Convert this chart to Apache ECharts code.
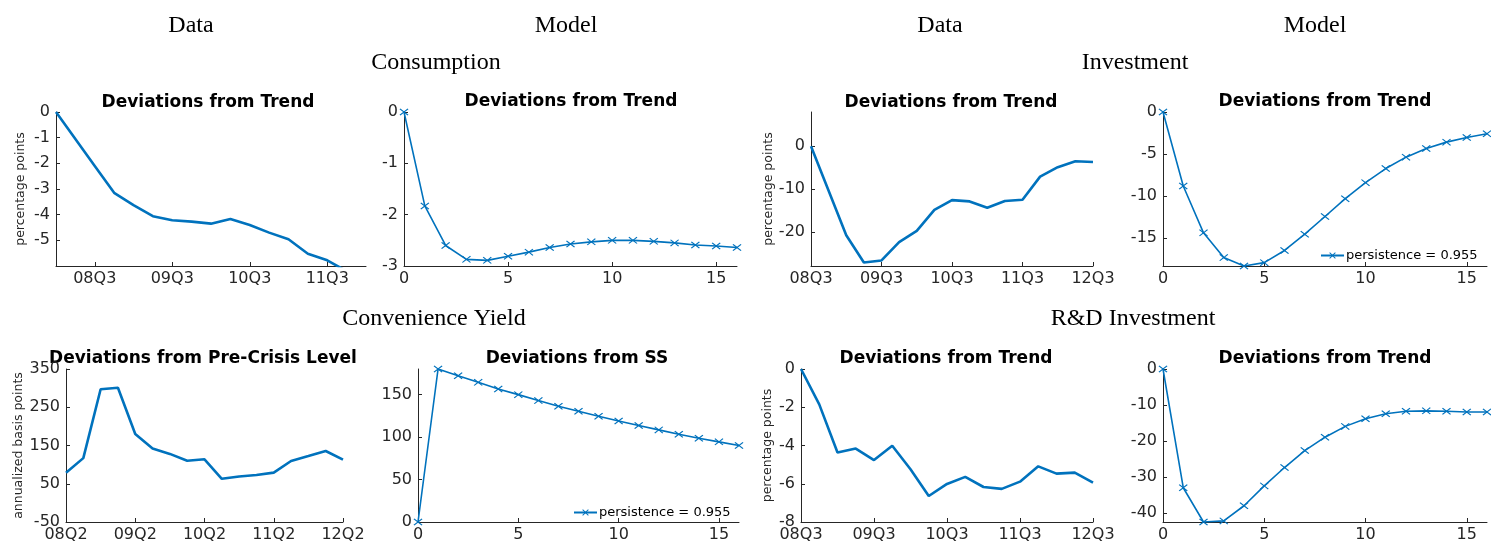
<!DOCTYPE html>
<html>
<head>
<meta charset="utf-8">
<script src="https://cdn.jsdelivr.net/npm/echarts@6/dist/echarts.min.js"></script>
<style>html,body{margin:0;padding:0;background:#fff;}#c{width:1491px;height:542px;}</style>
</head>
<body>
<div id="c"></div>
<script>
// ---------- data ----------
const consQuarters = ['08Q1','08Q2','08Q3','08Q4','09Q1','09Q2','09Q3','09Q4','10Q1','10Q2','10Q3','10Q4','11Q1','11Q2','11Q3','11Q4','12Q1'];
const consData = [0,-1.05,-2.1,-3.15,-3.63,-4.06,-4.22,-4.27,-4.35,-4.17,-4.40,-4.70,-4.96,-5.52,-5.78,-6.2];

const invQuarters = ['08Q3','08Q4','09Q1','09Q2','09Q3','09Q4','10Q1','10Q2','10Q3','10Q4','11Q1','11Q2','11Q3','11Q4','12Q1','12Q2','12Q3'];
const invData = [0,-10.4,-20.8,-27.2,-26.7,-22.4,-19.8,-14.9,-12.6,-12.9,-14.4,-12.8,-12.5,-7.1,-4.9,-3.5,-3.7];

const cyQuarters = ['08Q2','08Q3','08Q4','09Q1','09Q2','09Q3','09Q4','10Q1','10Q2','10Q3','10Q4','11Q1','11Q2','11Q3','11Q4','12Q1','12Q2'];
const cyData = [79,117,297,301,180,142,128,110,114,63,69,73,79,109.5,122.5,135.6,113];

const rdQuarters = ['08Q3','08Q4','09Q1','09Q2','09Q3','09Q4','10Q1','10Q2','10Q3','10Q4','11Q1','11Q2','11Q3','11Q4','12Q1','12Q2','12Q3'];
const rdData = [0,-1.85,-4.37,-4.16,-4.76,-4.01,-5.24,-6.64,-6.01,-5.64,-6.17,-6.27,-5.89,-5.09,-5.47,-5.42,-5.94];

const horizon = [0,1,2,3,4,5,6,7,8,9,10,11,12,13,14,15,16];
const consModel = [0,-1.83,-2.60,-2.87,-2.89,-2.81,-2.73,-2.64,-2.57,-2.53,-2.50,-2.50,-2.52,-2.55,-2.59,-2.61,-2.64];
const invModel = [0,-8.82,-14.4,-17.35,-18.35,-17.95,-16.5,-14.56,-12.45,-10.33,-8.42,-6.74,-5.38,-4.35,-3.59,-3.03,-2.59];
const cyModel = [0,180.2,172.3,164.5,156.7,150,143,136.3,130.4,124.6,119,113.6,108.5,103.4,98.7,94.4,90.1];
const rdModel = [0,-32.9,-42.4,-42.1,-37.9,-32.4,-27.3,-22.6,-18.9,-15.9,-13.8,-12.4,-11.7,-11.6,-11.7,-11.9,-11.9];

const modelTicks = [0,5,10,15];
const consYTicks = [-5,-4,-3,-2,-1,0];
const consModelYTicks = [-3,-2,-1,0];
const invYTicks = [-20,-10,0];
const invModelYTicks = [-15,-10,-5,0];
const cyYTicks = [-50,50,150,250,350];
const cyModelYTicks = [0,50,100,150];
const rdYTicks = [-8,-6,-4,-2,0];
const rdModelYTicks = [-40,-30,-20,-10,0];

const legendName = 'persistence = 0.955';

// ---------- styling ----------
const AX = '#262626';
const BLUE = '#0072BD';
const TICKFONT = {color: AX, fontFamily: 'DejaVu Sans', fontSize: 16};
const XMARK = 'path://M0,1L1,0L5,4L9,0L10,1L6,5L10,9L9,10L5,6L1,10L0,9L4,5Z';

function catX(gi, cats, q) {
  const f = (i, v) => String(v).endsWith(q);
  return {type: 'category', gridIndex: gi, data: cats, boundaryGap: false,
    axisLine: {onZero: false, lineStyle: {color: AX, width: 1}},
    axisTick: {inside: true, length: 4, interval: f, lineStyle: {color: AX}},
    axisLabel: Object.assign({interval: f, margin: 5}, TICKFONT),
    splitLine: {show: false}};
}
function valX(gi) {
  return {type: 'value', gridIndex: gi, min: 0, max: 16,
    axisLine: {onZero: false, lineStyle: {color: AX, width: 1}},
    axisTick: {inside: true, length: 4, customValues: modelTicks, lineStyle: {color: AX}},
    axisLabel: Object.assign({customValues: modelTicks, margin: 5}, TICKFONT),
    splitLine: {show: false}};
}
function valY(gi, min, max, ticks, name, gap) {
  return {type: 'value', gridIndex: gi, min: min, max: max,
    name: name || '', nameLocation: 'middle', nameGap: gap || 30,
    nameTextStyle: {color: AX, fontFamily: 'DejaVu Sans', fontSize: 12.5},
    axisLine: {show: true, onZero: false, lineStyle: {color: AX, width: 1}},
    axisTick: {show: true, inside: true, length: 4, customValues: ticks, lineStyle: {color: AX}},
    axisLabel: Object.assign({customValues: ticks, margin: 6}, TICKFONT),
    splitLine: {show: false}};
}
function pairs(xs, ys) { return ys.map((y, i) => [xs[i], y]); }
function dataLine(gi, vals, name) {
  return {type: 'line', name: name, xAxisIndex: gi, yAxisIndex: gi, data: vals,
    showSymbol: false, symbol: 'none', clip: true, animation: false,
    lineStyle: {color: BLUE, width: 2.6}, itemStyle: {color: BLUE}};
}
function modelLine(gi, vals, name) {
  return {type: 'line', name: name, xAxisIndex: gi, yAxisIndex: gi, data: pairs(horizon, vals),
    symbol: XMARK, symbolSize: [9, 7], showSymbol: true, clip: true, animation: false,
    lineStyle: {color: BLUE, width: 1.6}, itemStyle: {color: BLUE}};
}

const grids = [
  {left: 56, top: 112, width: 310, height: 154},
  {left: 404, top: 112, width: 333, height: 154},
  {left: 811, top: 112, width: 282, height: 154},
  {left: 1163, top: 112, width: 324, height: 154},
  {left: 66, top: 369, width: 277, height: 153},
  {left: 418, top: 369, width: 321, height: 153},
  {left: 801, top: 369, width: 292, height: 153},
  {left: 1163, top: 369, width: 324, height: 153}
].map(g => Object.assign({outerBoundsMode: 'none', containLabel: false}, g));

const heading = (x, y, t) => ({type: 'text', x: x, y: y, silent: true,
  style: {text: t, font: '24px "Liberation Serif"', fill: '#000', align: 'center', textAlign: 'center', verticalAlign: 'middle', textVerticalAlign: 'middle'}});
const ptitle = (x, y, t) => ({type: 'text', x: x, y: y, silent: true,
  style: {text: t, font: 'bold 17px "DejaVu Sans"', fill: '#000', align: 'center', textAlign: 'center', verticalAlign: 'middle', textVerticalAlign: 'middle'}});

const option = {
  animation: false,
  backgroundColor: '#fff',
  grid: grids,
  xAxis: [
    catX(0, consQuarters, 'Q3'), valX(1),
    catX(2, invQuarters, 'Q3'), valX(3),
    catX(4, cyQuarters, 'Q2'), valX(5),
    catX(6, rdQuarters, 'Q3'), valX(7)
  ],
  yAxis: [
    valY(0, -6, 0, consYTicks, 'percentage points', 29),
    valY(1, -3, 0, consModelYTicks),
    valY(2, -28, 8, invYTicks, 'percentage points', 36),
    valY(3, -18.35, 0, invModelYTicks),
    valY(4, -50, 350, cyYTicks, 'annualized basis points', 41),
    valY(5, 0, 180.2, cyModelYTicks),
    valY(6, -8, 0, rdYTicks, 'percentage points', 27),
    valY(7, -42.4, 0, rdModelYTicks)
  ],
  legend: [
    {data: [legendName], left: 1320, top: 249, padding: 0, itemWidth: 23, itemHeight: 8, itemGap: 0, selectedMode: false,
     textStyle: {fontFamily: 'DejaVu Sans', fontSize: 13, color: '#000', padding: [0, 0, 0, -3]}},
    {data: [legendName], left: 573, top: 506, padding: 0, itemWidth: 23, itemHeight: 8, itemGap: 0, selectedMode: false,
     textStyle: {fontFamily: 'DejaVu Sans', fontSize: 13, color: '#000', padding: [0, 0, 0, -3]}}
  ],
  series: [
    dataLine(0, consData, 'cons data'),
    modelLine(1, consModel, 'cons model'),
    dataLine(2, invData, 'inv data'),
    modelLine(3, invModel, legendName),
    dataLine(4, cyData, 'cy data'),
    modelLine(5, cyModel, legendName),
    dataLine(6, rdData, 'rd data'),
    modelLine(7, rdModel, 'rd model')
  ],
  graphic: [
    heading(191, 26, 'Data'), heading(566, 26, 'Model'),
    heading(940, 26, 'Data'), heading(1315, 26, 'Model'),
    heading(436, 63, 'Consumption'), heading(1135, 63, 'Investment'),
    heading(434, 319, 'Convenience Yield'), heading(1133, 319, 'R&D Investment'),
    ptitle(208, 103, 'Deviations from Trend'), ptitle(571, 102, 'Deviations from Trend'),
    ptitle(951, 103, 'Deviations from Trend'), ptitle(1325, 102, 'Deviations from Trend'),
    ptitle(203, 359, 'Deviations from Pre-Crisis Level'), ptitle(577, 359, 'Deviations from SS'),
    ptitle(946, 359, 'Deviations from Trend'), ptitle(1325, 359, 'Deviations from Trend')
  ]
};

const chart = echarts.init(document.getElementById('c'), null, {renderer: 'canvas'});
chart.setOption(option);
</script>
</body>
</html>
